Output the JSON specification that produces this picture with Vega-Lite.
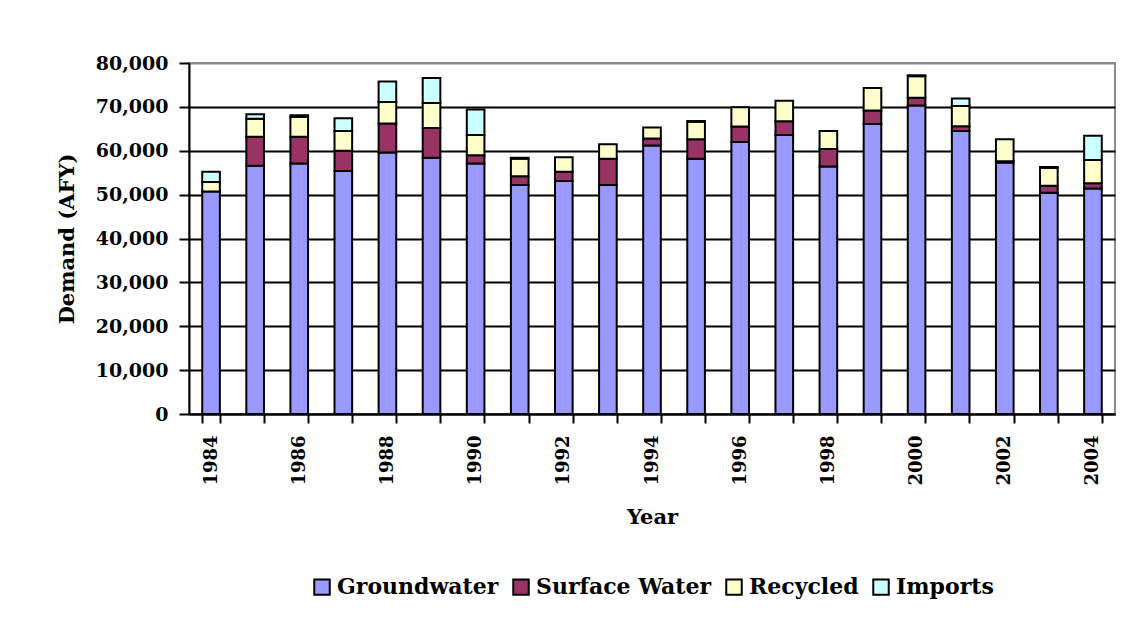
{
  "$schema": "https://vega.github.io/schema/vega-lite/v6.json",
  "width": 926,
  "height": 351,
  "autosize": {"type": "none"},
  "padding": {"left": 189, "top": 63, "right": 27, "bottom": 214},
  "background": "white",
  "config": {
    "font": "DejaVu Serif",
    "view": {"stroke": "#8c8c8c", "strokeWidth": 2},
    "axis": {"labelFont": "DejaVu Serif", "titleFont": "DejaVu Serif", "labelFontWeight": "bold", "titleFontWeight": "bold", "labelColor": "black", "titleColor": "black"}
  },
  "data": {
    "values": [
      {"year": "1984", "source": "Groundwater", "value": 50700},
      {"year": "1984", "source": "Recycled", "value": 2200},
      {"year": "1984", "source": "Imports", "value": 2300},
      {"year": "1985", "source": "Groundwater", "value": 56600},
      {"year": "1985", "source": "Surface Water", "value": 6600},
      {"year": "1985", "source": "Recycled", "value": 4100},
      {"year": "1985", "source": "Imports", "value": 1000},
      {"year": "1986", "source": "Groundwater", "value": 57100},
      {"year": "1986", "source": "Surface Water", "value": 6100},
      {"year": "1986", "source": "Recycled", "value": 4500},
      {"year": "1986", "source": "Imports", "value": 400},
      {"year": "1987", "source": "Groundwater", "value": 55400},
      {"year": "1987", "source": "Surface Water", "value": 4600},
      {"year": "1987", "source": "Recycled", "value": 4500},
      {"year": "1987", "source": "Imports", "value": 2900},
      {"year": "1988", "source": "Groundwater", "value": 59600},
      {"year": "1988", "source": "Surface Water", "value": 6600},
      {"year": "1988", "source": "Recycled", "value": 4900},
      {"year": "1988", "source": "Imports", "value": 4700},
      {"year": "1989", "source": "Groundwater", "value": 58400},
      {"year": "1989", "source": "Surface Water", "value": 6800},
      {"year": "1989", "source": "Recycled", "value": 5700},
      {"year": "1989", "source": "Imports", "value": 5700},
      {"year": "1990", "source": "Groundwater", "value": 57100},
      {"year": "1990", "source": "Surface Water", "value": 1900},
      {"year": "1990", "source": "Recycled", "value": 4600},
      {"year": "1990", "source": "Imports", "value": 5800},
      {"year": "1991", "source": "Groundwater", "value": 52200},
      {"year": "1991", "source": "Surface Water", "value": 2000},
      {"year": "1991", "source": "Recycled", "value": 4000},
      {"year": "1991", "source": "Imports", "value": 200},
      {"year": "1992", "source": "Groundwater", "value": 53100},
      {"year": "1992", "source": "Surface Water", "value": 2100},
      {"year": "1992", "source": "Recycled", "value": 3300},
      {"year": "1993", "source": "Groundwater", "value": 52200},
      {"year": "1993", "source": "Surface Water", "value": 6000},
      {"year": "1993", "source": "Recycled", "value": 3300},
      {"year": "1994", "source": "Groundwater", "value": 61200},
      {"year": "1994", "source": "Surface Water", "value": 1600},
      {"year": "1994", "source": "Recycled", "value": 2500},
      {"year": "1995", "source": "Groundwater", "value": 58200},
      {"year": "1995", "source": "Surface Water", "value": 4400},
      {"year": "1995", "source": "Recycled", "value": 4000},
      {"year": "1995", "source": "Imports", "value": 200},
      {"year": "1996", "source": "Groundwater", "value": 62000},
      {"year": "1996", "source": "Surface Water", "value": 3500},
      {"year": "1996", "source": "Recycled", "value": 4400},
      {"year": "1997", "source": "Groundwater", "value": 63600},
      {"year": "1997", "source": "Surface Water", "value": 3100},
      {"year": "1997", "source": "Recycled", "value": 4700},
      {"year": "1998", "source": "Groundwater", "value": 56400},
      {"year": "1998", "source": "Surface Water", "value": 4000},
      {"year": "1998", "source": "Recycled", "value": 4100},
      {"year": "1999", "source": "Groundwater", "value": 66100},
      {"year": "1999", "source": "Surface Water", "value": 3100},
      {"year": "1999", "source": "Recycled", "value": 5100},
      {"year": "2000", "source": "Groundwater", "value": 70300},
      {"year": "2000", "source": "Surface Water", "value": 1800},
      {"year": "2000", "source": "Recycled", "value": 4900},
      {"year": "2000", "source": "Imports", "value": 200},
      {"year": "2001", "source": "Groundwater", "value": 64500},
      {"year": "2001", "source": "Surface Water", "value": 1100},
      {"year": "2001", "source": "Recycled", "value": 4600},
      {"year": "2001", "source": "Imports", "value": 1700},
      {"year": "2002", "source": "Groundwater", "value": 57300},
      {"year": "2002", "source": "Surface Water", "value": 300},
      {"year": "2002", "source": "Recycled", "value": 5000},
      {"year": "2003", "source": "Groundwater", "value": 50400},
      {"year": "2003", "source": "Surface Water", "value": 1600},
      {"year": "2003", "source": "Recycled", "value": 4100},
      {"year": "2003", "source": "Imports", "value": 200},
      {"year": "2004", "source": "Groundwater", "value": 51400},
      {"year": "2004", "source": "Surface Water", "value": 1200},
      {"year": "2004", "source": "Recycled", "value": 5300},
      {"year": "2004", "source": "Imports", "value": 5500}
    ]
  },
  "transform": [
    {"calculate": "indexof(['Groundwater','Surface Water','Recycled','Imports'], datum.source)", "as": "stackorder"}
  ],
  "mark": {"type": "bar", "stroke": "black", "strokeWidth": 2},
  "encoding": {
    "x": {
      "field": "year",
      "type": "ordinal",
      "scale": {"paddingInner": 0.6, "paddingOuter": 0.3},
      "axis": {
        "title": "Year",
        "titleFontSize": 21,
        "titlePadding": 21,
        "labelFontSize": 18,
        "labelAngle": 270,
        "labelAlign": "right",
        "labelBaseline": "middle",
        "labelPadding": 12,
        "labelExpr": "toNumber(datum.value) % 2 == 0 ? datum.value : ''",
        "tickBand": "extent",
        "tickSize": 9,
        "tickWidth": 2,
        "tickColor": "black",
        "domainColor": "black",
        "domainWidth": 2,
        "grid": false
      }
    },
    "y": {
      "field": "value",
      "type": "quantitative",
      "aggregate": "sum",
      "stack": "zero",
      "scale": {"domain": [0, 80000], "nice": false},
      "axis": {
        "title": "Demand (AFY)",
        "titleFontSize": 21,
        "titlePadding": 18,
        "labelFontSize": 19,
        "labelPadding": 11,
        "format": ",d",
        "values": [0, 10000, 20000, 30000, 40000, 50000, 60000, 70000, 80000],
        "tickSize": 10,
        "tickWidth": 2,
        "tickColor": "black",
        "domainColor": "black",
        "domainWidth": 2,
        "grid": true,
        "gridColor": {"condition": {"test": "datum.value == 80000", "value": "#8c8c8c"}, "value": "black"},
        "gridWidth": 2
      }
    },
    "color": {
      "field": "source",
      "type": "nominal",
      "scale": {
        "domain": ["Groundwater", "Surface Water", "Recycled", "Imports"],
        "range": ["#9999ff", "#993366", "#ffffcc", "#ccffff"]
      },
      "legend": {
        "title": null,
        "orient": "none",
        "direction": "horizontal",
        "legendX": 122,
        "legendY": 513,
        "symbolType": "square",
        "symbolSize": 240,
        "symbolStrokeColor": "black",
        "symbolStrokeWidth": 2,
        "symbolOpacity": 1,
        "labelFont": "DejaVu Serif",
        "labelFontWeight": "bold",
        "labelFontSize": 22,
        "labelColor": "black",
        "labelOffset": 4,
        "columnPadding": 10,
        "labelLimit": 400
      }
    },
    "order": {"field": "stackorder", "type": "quantitative"}
  }
}
